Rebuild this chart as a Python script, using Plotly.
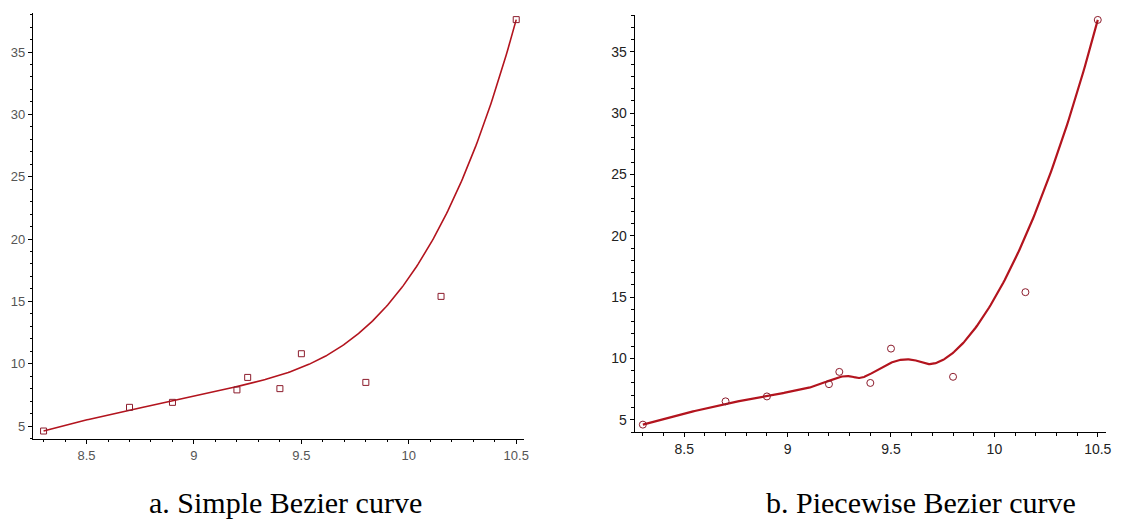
import numpy as np
import plotly.graph_objects as go
from math import comb

# Control points
x_pts = [8.3, 8.7, 8.9, 9.2, 9.25, 9.4, 9.5, 9.8, 10.15, 10.5]
y_pts = [4.6, 6.5, 6.9, 7.9, 8.9, 8.0, 10.8, 8.5, 15.4, 37.6]

x_ticks = [8.5, 9, 9.5, 10, 10.5]
y_ticks = [5, 10, 15, 20, 25, 30, 35]
captions = ["a. Simple Bezier curve", "b. Piecewise Bezier curve"]

CURVE = "#b3141e"
MARK = "#8c1c2c"


def bezier(P, n=300):
    P = np.asarray(P, dtype=float)
    deg = len(P) - 1
    t = np.linspace(0, 1, n)[:, None]
    out = np.zeros((n, 2))
    for k in range(deg + 1):
        out += comb(deg, k) * t**k * (1 - t) ** (deg - k) * P[k]
    return out


def piecewise_bezier(px, py):
    P = np.column_stack([px, py]).astype(float)
    n = len(P)
    joins = [P[0]] + [(P[i] + P[i + 1]) / 2 for i in range(2, n - 2, 2)] + [P[-1]]
    parts = []
    for k in range(len(joins) - 1):
        ctrl = [joins[k], P[2 * k + 1], P[2 * k + 2], joins[k + 1]]
        seg = bezier(ctrl, 120)
        parts.append(seg if k == 0 else seg[1:])
    return np.vstack(parts)


c1 = bezier(np.column_stack([x_pts, y_pts]), 400)
c2 = piecewise_bezier(x_pts, y_pts)

fig = go.Figure()
fig.add_trace(go.Scatter(x=c1[:, 0], y=c1[:, 1], mode="lines", line=dict(color=CURVE, width=1.6),
                         xaxis="x", yaxis="y", showlegend=False))
fig.add_trace(go.Scatter(x=x_pts, y=y_pts, mode="markers",
                         marker=dict(symbol="square-open", size=6, color=MARK, line=dict(width=1)),
                         xaxis="x", yaxis="y", showlegend=False))
fig.add_trace(go.Scatter(x=c2[:, 0], y=c2[:, 1], mode="lines", line=dict(color=CURVE, width=2.2),
                         xaxis="x2", yaxis="y2", showlegend=False))
fig.add_trace(go.Scatter(x=x_pts, y=y_pts, mode="markers",
                         marker=dict(symbol="circle-open", size=7, color=MARK, line=dict(width=1)),
                         xaxis="x2", yaxis="y2", showlegend=False))

W, H = 1122, 531


def xdom(a, b):
    return [a / W, b / W]


def ydom(top, bottom):
    return [1 - bottom / H, 1 - top / H]


def axis_common(font_color, size):
    return dict(showline=True, linecolor="black", linewidth=1, showgrid=False, zeroline=False,
                ticks="outside", ticklen=4, tickcolor="black", tickwidth=1,
                tickfont=dict(family="Liberation Sans", size=size, color=font_color))


xa1 = axis_common("#555555", 13)
xa1.update(domain=xdom(33, 527), range=[8.25, 10.537], tickvals=x_ticks, anchor="y",
           minor=dict(dtick=0.1, tick0=8.3, ticks="outside", ticklen=2, tickcolor="black"))
ya1 = axis_common("#555555", 13)
ya1.update(domain=ydom(13, 439), range=[3.96, 38.13], tickvals=y_ticks, anchor="x",
           minor=dict(dtick=1, tick0=4, ticks="outside", ticklen=2, tickcolor="black"))
xa2 = axis_common("#222222", 14)
xa2.update(domain=xdom(638, 1112), range=[8.26, 10.54], tickvals=x_ticks, anchor="y2",
           minor=dict(dtick=0.1, tick0=8.3, ticks="outside", ticklen=3, tickcolor="black"))
ya2 = axis_common("#222222", 14)
ya2.update(domain=ydom(15, 432), range=[4.0, 38.0], tickvals=y_ticks, anchor="x2",
           minor=dict(dtick=1, tick0=4, ticks="outside", ticklen=3, tickcolor="black"))

fig.update_layout(
    width=W, height=H, margin=dict(l=0, r=0, t=0, b=0),
    paper_bgcolor="white", plot_bgcolor="white",
    xaxis=xa1, yaxis=ya1, xaxis2=xa2, yaxis2=ya2,
    annotations=[
        dict(text=captions[0], x=287 / W, y=1 - 502 / H, xref="paper", yref="paper",
             showarrow=False, xanchor="center", yanchor="middle",
             font=dict(family="Liberation Serif", size=30, color="black")),
        dict(text=captions[1], x=926 / W, y=1 - 502 / H, xref="paper", yref="paper",
             showarrow=False, xanchor="center", yanchor="middle",
             font=dict(family="Liberation Serif", size=30, color="black")),
    ],
)

fig.write_html("out.html", config={"displayModeBar": False},
               post_script="document.body.style.margin='0';")
